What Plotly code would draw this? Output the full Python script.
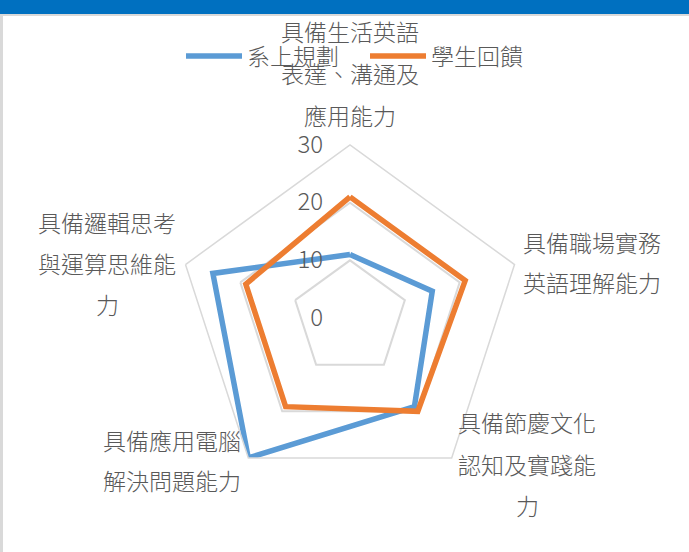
import plotly.graph_objects as go

W, H = 689, 552

categories = [
    "具備生活英語表達、溝通及應用能力",
    "具備職場實務英語理解能力",
    "具備節慶文化認知及實踐能力",
    "具備應用電腦解決問題能力",
    "具備邏輯思考與運算思維能力",
]
# label lines as shown in the chart
label_lines = [
    ["具備生活英語", "表達、溝通及", "應用能力"],
    ["具備職場實務", "英語理解能力"],
    ["具備節慶文化", "認知及實踐能", "力"],
    ["具備應用電腦", "解決問題能力"],
    ["具備邏輯思考", "與運算思維能", "力"],
]
series_names = ["系上規劃", "學生回饋"]
plan_values = [11, 15, 19, 30, 25]
feedback_values = [21, 21, 20, 19, 19]
radial_ticks = [0, 10, 20, 30]

colors = ["#5B9BD5", "#ED7D31"]
text_color = "#595959"
font_family = "Noto Sans CJK TC, Noto Sans CJK SC, sans-serif"

fig = go.Figure()
for name, vals, col in zip(series_names, [plan_values, feedback_values], colors):
    fig.add_trace(go.Scatterpolar(
        r=vals + vals[:1],
        theta=categories + categories[:1],
        mode="lines",
        name=name,
        line=dict(color=col, width=5.5),
        hoverinfo="skip",
    ))

# polar placement (center at 350, 318 px; radius 173 px)
cx, cy, R = 350, 318, 173
dom_x = [(cx - R) / W, (cx + R) / W]
dom_y = [(H - cy - R) / H, (H - cy + R) / H]

# label anchor positions (px): center x, first-line y, line spacing
label_pos = [
    (350, 31, 42),
    (592, 242, 40),
    (527, 422, 41.5),
    (172, 440, 40),
    (107, 222, 41),
]
annotations = []
for lines, (lx, ly, dy) in zip(label_lines, label_pos):
    for i, t in enumerate(lines):
        annotations.append(dict(
            x=lx / W, y=1 - (ly + i * dy) / H, xref="paper", yref="paper",
            text=t, showarrow=False, xanchor="center", yanchor="middle",
            font=dict(size=23, color=text_color, family=font_family, weight=300),
        ))

fig.update_layout(
    width=W, height=H,
    margin=dict(l=0, r=0, t=0, b=0),
    paper_bgcolor="white",
    font=dict(family=font_family, color=text_color),
    showlegend=True,
    legend=dict(
        orientation="h", x=181 / W, xanchor="left", y=1 - 56 / H, yanchor="middle",
        bgcolor="rgba(0,0,0,0)",
        font=dict(size=23, color=text_color, family=font_family, weight=300),
        itemwidth=56, traceorder="normal", entrywidth=113,
    ),
    polar=dict(
        domain=dict(x=dom_x, y=dom_y),
        gridshape="linear",
        bgcolor="white",
        radialaxis=dict(
            range=[0, 30], tickvals=radial_ticks, angle=90,
            side="counterclockwise", showline=False,
            gridcolor="#d9d9d9", gridwidth=1.5,
            tickfont=dict(size=24, color=text_color, family=font_family, weight=300),
            ticks="outside", ticklen=18, tickcolor="rgba(0,0,0,0)",
            tickangle=90,
        ),
        angularaxis=dict(
            rotation=90, direction="clockwise", showticklabels=False,
            showgrid=False, linecolor="#d9d9d9", linewidth=1.5, ticks="",
        ),
    ),
    annotations=annotations,
    shapes=[
        dict(type="rect", xref="paper", yref="paper", x0=0, x1=1, y0=1 - 14 / H, y1=1,
             fillcolor="#0070C0", line=dict(width=0), layer="above"),
        dict(type="rect", xref="paper", yref="paper", x0=0, x1=1, y0=1 - 16 / H, y1=1 - 14 / H,
             fillcolor="#d9d9d9", line=dict(width=0), layer="above"),
        dict(type="rect", xref="paper", yref="paper", x0=0, x1=3 / W, y0=0, y1=1 - 14 / H,
             fillcolor="#d9d9d9", line=dict(width=0), layer="above"),
    ],
)

fig.write_html("out.html", config={"displayModeBar": False},
               post_script="document.body.style.margin='0';")
